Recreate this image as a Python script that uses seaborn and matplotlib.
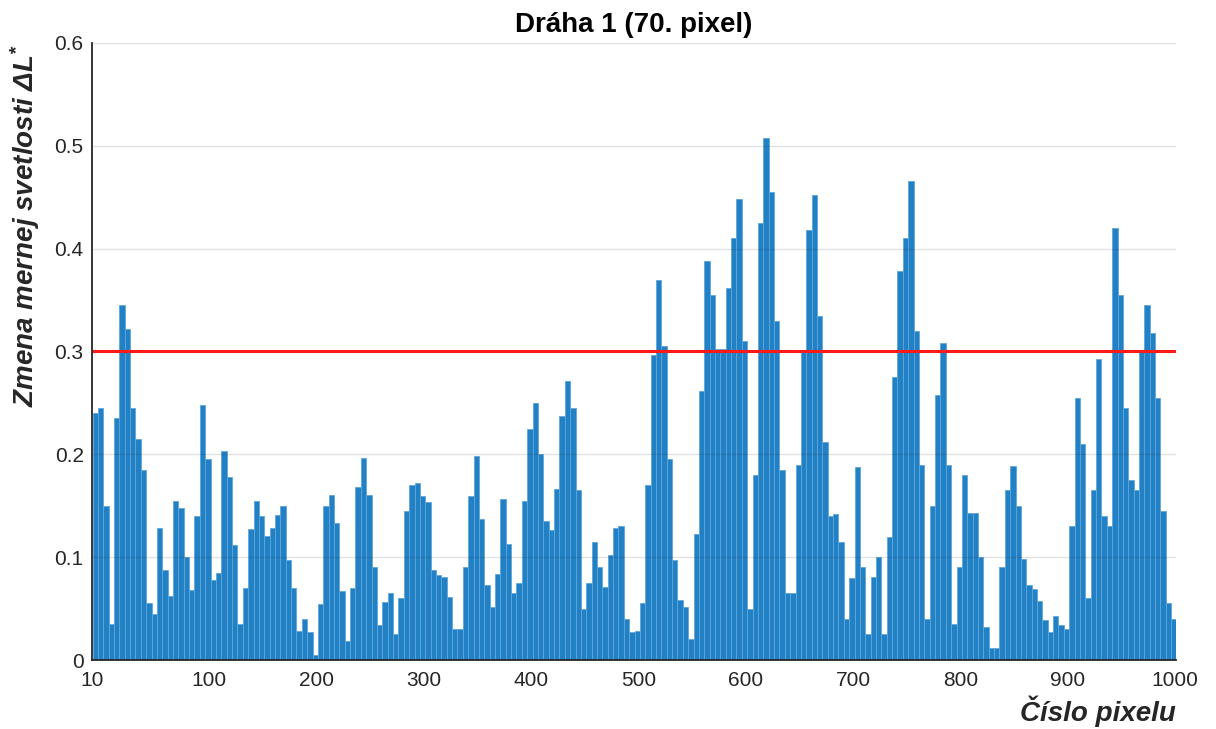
import numpy as np
import matplotlib
matplotlib.use("Agg")
import matplotlib.pyplot as plt
import seaborn as sns

# Pixel positions along the track (every 5th pixel) and the measured change in lightness
pixel = np.arange(-6, 1000, 5)
delta_L = np.array([
    0.240, 0.245, 0.150, 0.035, 0.235, 0.345, 0.322, 0.245, 0.215, 0.185,
    0.055, 0.045, 0.128, 0.088, 0.062, 0.155, 0.148, 0.100, 0.068, 0.140,
    0.248, 0.195, 0.078, 0.085, 0.203, 0.178, 0.112, 0.035, 0.070, 0.127,
    0.155, 0.140, 0.121, 0.128, 0.141, 0.150, 0.097, 0.070, 0.028, 0.040,
    0.027, 0.005, 0.054, 0.150, 0.160, 0.133, 0.067, 0.018, 0.070, 0.168,
    0.196, 0.160, 0.090, 0.034, 0.056, 0.065, 0.025, 0.060, 0.145, 0.170,
    0.172, 0.159, 0.154, 0.088, 0.083, 0.081, 0.061, 0.030, 0.030, 0.090,
    0.159, 0.198, 0.137, 0.073, 0.052, 0.084, 0.157, 0.113, 0.065, 0.075,
    0.155, 0.225, 0.250, 0.200, 0.135, 0.126, 0.166, 0.237, 0.271, 0.245,
    0.165, 0.050, 0.075, 0.115, 0.090, 0.071, 0.102, 0.128, 0.130, 0.040,
    0.027, 0.028, 0.055, 0.170, 0.297, 0.370, 0.305, 0.195, 0.097, 0.058,
    0.052, 0.020, 0.123, 0.262, 0.388, 0.355, 0.302, 0.302, 0.362, 0.410,
    0.448, 0.310, 0.050, 0.180, 0.425, 0.508, 0.455, 0.330, 0.185, 0.065,
    0.065, 0.190, 0.300, 0.418, 0.452, 0.335, 0.212, 0.140, 0.142, 0.115,
    0.040, 0.080, 0.188, 0.090, 0.025, 0.081, 0.100, 0.025, 0.120, 0.275,
    0.378, 0.410, 0.466, 0.320, 0.190, 0.040, 0.150, 0.258, 0.308, 0.190,
    0.035, 0.090, 0.180, 0.143, 0.143, 0.100, 0.032, 0.012, 0.012, 0.090,
    0.165, 0.189, 0.150, 0.098, 0.073, 0.069, 0.057, 0.039, 0.027, 0.043,
    0.034, 0.030, 0.130, 0.255, 0.210, 0.060, 0.165, 0.293, 0.140, 0.130,
    0.420, 0.355, 0.245, 0.175, 0.165, 0.300, 0.345, 0.318, 0.255, 0.145,
    0.055, 0.040,
])

threshold = 0.3
x_range = (-9, 1001)
x_tick_pos = [-9, 100, 200, 300, 400, 500, 600, 700, 800, 900, 1000]
x_tick_labels = ["10", "100", "200", "300", "400", "500", "600", "700", "800", "900", "1000"]
y_ticks = [0, 0.1, 0.2, 0.3, 0.4, 0.5, 0.6]
y_tick_labels = ["0", "0.1", "0.2", "0.3", "0.4", "0.5", "0.6"]

title = "Dráha 1 (70. pixel)"
x_label = "Číslo pixelu"
y_label = "Zmena mernej svetlosti ΔL$^{*}$"

sns.set_theme(style="white")
plt.rcParams["font.family"] = ["Liberation Sans", "DejaVu Sans"]
plt.rcParams["mathtext.fontset"] = "custom"
plt.rcParams["mathtext.rm"] = "Liberation Sans:bold:italic"
plt.rcParams["mathtext.it"] = "Liberation Sans:bold:italic"
plt.rcParams["mathtext.bf"] = "Liberation Sans:bold:italic"

dark = "#262626"

fig = plt.figure(figsize=(12.16, 7.29), dpi=100)
ax = fig.add_axes([92 / 1216, 69 / 729, 1084 / 1216, 617 / 729])

sns.barplot(x=pixel, y=delta_L, native_scale=True, width=1.0,
            color="#2280c4", saturation=1, errorbar=None,
            edgecolor="#5ea6da", linewidth=0.6, ax=ax)

ax.axhline(threshold, color="#ff1a1a", lw=2.2, zorder=5)

ax.set_xlim(*x_range)
ax.set_ylim(0, 0.6)
ax.set_xticks(x_tick_pos)
ax.set_xticklabels(x_tick_labels)
ax.set_yticks(y_ticks)
ax.set_yticklabels(y_tick_labels)

ax.set_axisbelow(False)
ax.grid(axis="y", color=dark, alpha=0.13, lw=1.0, zorder=4)
ax.grid(axis="x", visible=False)

for side in ("top", "right"):
    ax.spines[side].set_visible(False)
for side in ("left", "bottom"):
    ax.spines[side].set_color(dark)
    ax.spines[side].set_linewidth(1.3)
    ax.spines[side].set_zorder(6)

ax.tick_params(axis="both", direction="in", length=8.5, width=1.1,
               colors=dark, labelsize=15, pad=6)
ax.tick_params(axis="x", pad=8)

ax.set_title(title, fontsize=20, fontweight="bold", color="black", pad=8)

ax.set_xlabel(x_label, fontsize=20, fontweight="bold", style="italic", color=dark)
ax.xaxis.set_label_coords(1.0, -0.058)
ax.xaxis.label.set_ha("right")
ax.xaxis.label.set_va("top")

ax.set_ylabel(y_label, fontsize=20, fontweight="bold", style="italic", color=dark)
ax.yaxis.set_label_coords(-0.062, 0.705)
ax.yaxis.label.set_va("center")

fig.savefig("out.png", dpi=100)
